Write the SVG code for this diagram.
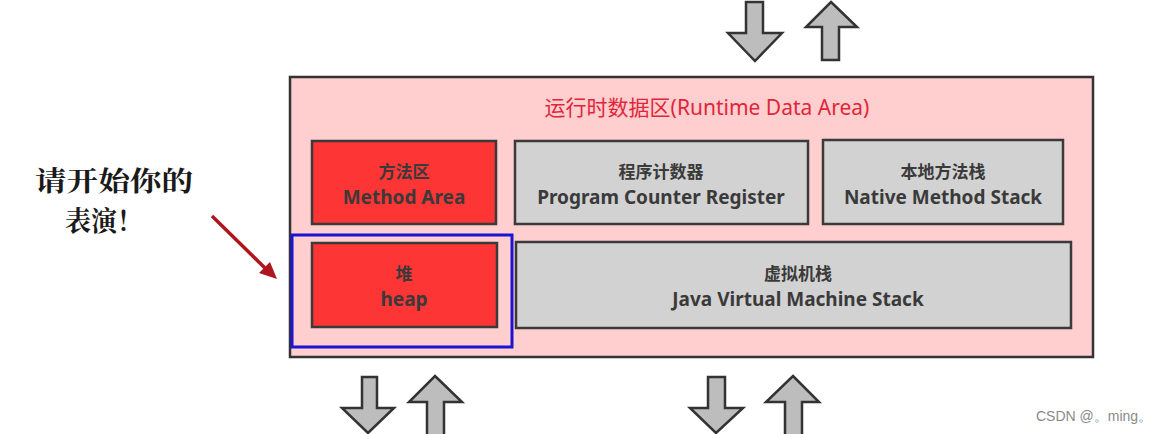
<svg xmlns="http://www.w3.org/2000/svg" width="1167" height="434" viewBox="0 0 1167 434">
<style>
.box{stroke:#3a3a3a;stroke-width:2.5}
.red{fill:#fd3535}
.gray{fill:#d2d2d2}
.t{font-family:"Noto Sans","Noto Sans CJK SC",sans-serif;font-weight:bold;fill:#3a3a3a;text-anchor:middle}
.en{font-size:19px}
.cn{font-size:17px}
.ar{fill:#bdbdbd;stroke:#333;stroke-width:2.5;stroke-linejoin:miter}
.cap{font-family:"Noto Serif CJK SC","Noto Sans CJK SC",serif;font-size:27px;font-weight:bold;fill:#1a1a1a}
</style>
<rect width="1167" height="434" fill="#fff"/>
<g id="runtime-area">
<rect x="290" y="77" width="803" height="280" fill="#ffcece" stroke="#333" stroke-width="2.5"/>
<text x="707" y="115" font-family="'Noto Sans','Noto Sans CJK SC',sans-serif" font-size="21" fill="#e0263a" text-anchor="middle">运行时数据区(Runtime Data Area)</text>
</g>
<g id="method-area">
<rect class="box red" x="312" y="141" width="184" height="83"/>
<text class="t cn" x="404" y="178">方法区</text>
<text class="t en" x="404" y="204">Method Area</text>
</g>
<g id="pc-register">
<rect class="box gray" x="515" y="141" width="293" height="83"/>
<text class="t cn" x="661" y="178">程序计数器</text>
<text class="t en" x="661" y="204">Program Counter Register</text>
</g>
<g id="native-stack">
<rect class="box gray" x="823" y="140" width="240" height="84"/>
<text class="t cn" x="943" y="178">本地方法栈</text>
<text class="t en" x="943" y="204">Native Method Stack</text>
</g>
<g id="heap-highlight">
<rect x="292" y="235" width="220" height="112" fill="none" stroke="#1a14d6" stroke-width="3"/>
</g>
<g id="heap">
<rect class="box red" x="312" y="243" width="185" height="84"/>
<text class="t cn" x="404" y="280">堆</text>
<text class="t en" x="404" y="306">heap</text>
</g>
<g id="jvm-stack">
<rect class="box gray" x="516" y="242" width="555" height="86"/>
<text class="t cn" x="798" y="280">虚拟机栈</text>
<text class="t en" x="798" y="306">Java Virtual Machine Stack</text>
</g>
<g id="caption">
<text class="cap" x="35" y="191" textLength="158" lengthAdjust="spacingAndGlyphs">请开始你的</text>
<text class="cap" x="65" y="231" textLength="78" lengthAdjust="spacingAndGlyphs">表演！</text>
</g>
<g id="connectors">
<line x1="212" y1="216" x2="266" y2="269" stroke="#b0141c" stroke-width="3.5"/>
<polygon points="277,279 259,273 270,262" fill="#b0141c"/>
<polygon class="ar" points="746,2 763,2 763,33 782,33 755,61 728,33 746,33"/>
<polygon class="ar" points="831,2 857,27 839,27 839,60 822,60 822,27 806,27"/>
<polygon class="ar" points="362,377 377,377 377,408 394,408 368,433 342,408 362,408"/>
<polygon class="ar" points="435,376 462,402 444,402 444,436 427,436 427,402 409,402"/>
<polygon class="ar" points="708,377 725,377 725,408 743,408 716,433 690,408 708,408"/>
<polygon class="ar" points="793,376 819,402 802,402 802,436 785,436 785,402 766,402"/>
</g>
<text x="1036" y="421" font-family="'Liberation Sans',sans-serif" font-size="14" fill="#8a8a8a">CSDN @。ming。</text>
</svg>
